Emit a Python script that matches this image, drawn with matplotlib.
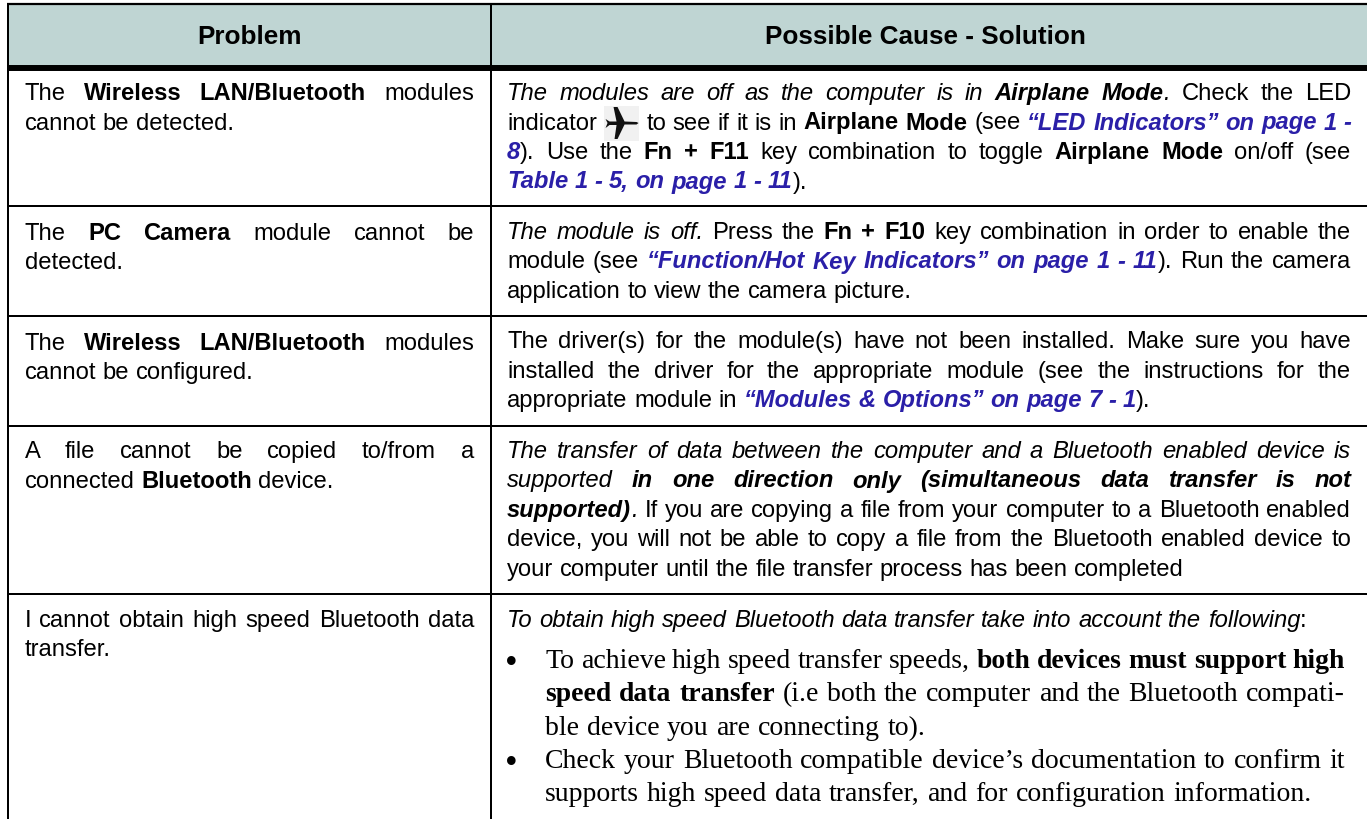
import matplotlib
matplotlib.use('Agg')
import matplotlib.pyplot as plt
from matplotlib.patches import Polygon, Rectangle

plt.rcParams['text.hinting'] = 'no_autohint'

# header + cell text. each line = list of (text, style)
# styles: r plain, b bold, i italic, bi bold italic, l link (blue bold italic)
# times = Times body, tb = Times bold
header_left = 'Problem'
header_right = 'Possible Cause - Solution'

left_cells = [
    [[('The', 'r'), ('Wireless LAN/Bluetooth', 'b'), ('modules', 'r')],
     [('cannot be detected.', 'r')]],
    [[('The', 'r'), ('PC Camera', 'b'), ('module cannot be', 'r')],
     [('detected.', 'r')]],
    [[('The', 'r'), ('Wireless LAN/Bluetooth', 'b'), ('modules', 'r')],
     [('cannot be configured.', 'r')]],
    [[('A file cannot be copied to/from a', 'r')],
     [('connected', 'r'), ('Bluetooth', 'b'), ('device.', 'r')]],
    [[('I cannot obtain high speed Bluetooth data', 'r')],
     [('transfer.', 'r')]],
]

right_cells = [
    [[('The modules are off as the computer is in', 'i'), ('Airplane Mode', 'bi'), ('.', 'i'), ('Check the LED', 'r')],
     [('indicator', 'r'), ('@plane', 'r'), ('to see if it is in', 'r'), ('Airplane Mode', 'b'), ('(see', 'r'),
      ('\u201cLED Indicators\u201d on page 1 -', 'l')],
     [('8', 'l'), (').', 'r'), ('Use the', 'r'), ('Fn + F11', 'b'), ('key combination to toggle', 'r'),
      ('Airplane Mode', 'b'), ('on/off (see', 'r')],
     [('Table 1 - 5, on page 1 - 11', 'l'), (').', 'r')]],
    [[('The module is off.', 'i'), ('Press the', 'r'), ('Fn + F10', 'b'), ('key combination in order to enable the', 'r')],
     [('module (see', 'r'), ('\u201cFunction/Hot Key Indicators\u201d on page 1 - 11', 'l'), (').', 'r'), ('Run the camera', 'r')],
     [('application to view the camera picture.', 'r')]],
    [[('The driver(s) for the module(s) have not been installed. Make sure you have', 'r')],
     [('installed the driver for the appropriate module (see the instructions for the', 'r')],
     [('appropriate module in', 'r'), ('\u201cModules & Options\u201d on page 7 - 1', 'l'), (').', 'r')]],
    [[('The transfer of data between the computer and a Bluetooth enabled device is', 'i')],
     [('supported', 'i'), ('in one direction only (simultaneous data transfer is not', 'bi')],
     [('supported)', 'bi'), ('.', 'i'), ('If you are copying a file from your computer to a Bluetooth enabled', 'r')],
     [('device, you will not be able to copy a file from the Bluetooth enabled device to', 'r')],
     [('your computer until the file transfer process has been completed', 'r')]],
    [[('To obtain high speed Bluetooth data transfer take into account the following', 'i'), (':', 'r')]],
]

bullet_lines = [
    [('To achieve high speed transfer speeds,', 'times'), ('both devices must support high', 'tb')],
    [('speed data transfer', 'tb'), ('(i.e both the computer and the Bluetooth compati-', 'times')],
    [('ble device you are connecting to).', 'times')],
    [('Check your Bluetooth compatible device\u2019s documentation to confirm it', 'times')],
    [('supports high speed data transfer, and for configuration information.', 'times')],
]

# lines that are not stretched to the column width (last line of a paragraph)
left_justified = [[True, False], [True, False], [True, False], [True, False], [True, False]]
right_justified = [[True, True, True, False], [True, True, False], [True, True, False],
                   [True, True, True, True, False], [False]]
bullet_justified = [True, True, False, True, False]
bullet_marks = [True, False, False, True, False]

# no space before these runs
NO_SPACE = ('.', ').', ':')

SANS = 'Liberation Sans'
SERIF = 'Liberation Serif'
BLUE = '#2a1fa8'
STYLES = {
    'r': dict(family=SANS),
    'b': dict(family=SANS, weight='bold'),
    'i': dict(family=SANS, style='italic'),
    'bi': dict(family=SANS, weight='bold', style='italic'),
    'l': dict(family=SANS, weight='bold', style='italic', color=BLUE),
    'times': dict(family=SERIF),
    'tb': dict(family=SERIF, weight='bold'),
}

W, H = 1367, 820
fig = plt.figure(figsize=(W / 100, H / 100), dpi=100)
ax = fig.add_axes([0, 0, 1, 1])
ax.set_xlim(0, W)
ax.set_ylim(H, 0)
ax.axis('off')
renderer = fig.canvas.get_renderer()

PLANE_W = 36


def word_width(word, style, size):
    if word == '@plane':
        return PLANE_W
    t = ax.text(0, 0, word, fontsize=size, **STYLES[style])
    w = t.get_window_extent(renderer).width
    t.remove()
    return w


def draw_plane(x, base):
    # little airplane icon on its pale square
    cy = base - 5.5
    ax.add_patch(Rectangle((x, cy - 17), 35, 35, fc='#f1f1f1', ec='none', zorder=1))
    pts = [(2, -4), (6, -1.5), (13, -1.5), (10, -16), (14, -16), (21, -1.5), (33, -1), (35, 0),
           (33, 1.5), (21, 1.5), (14, 16), (11, 16), (13, 2), (6, 2), (2, 5), (4, 0)]
    ax.add_patch(Polygon([(x + px, cy + py) for px, py in pts], fc='#111111', ec='none', zorder=2))


def draw_line(runs, x0, x1, base, size, justify):
    words = []
    for i, (txt, st) in enumerate(runs):
        glue = txt in NO_SPACE or (i > 0 and runs[i - 1][0] == '8') or i == 0
        for k, w in enumerate(txt.split(' ')):
            words.append((w, st, glue if k == 0 else False))
    widths = [word_width(w, st, size) for w, st, g in words]
    gaps = sum(1 for w, st, g in words[1:] if not g)
    space = word_width('a a', 'r', size) - word_width('aa', 'r', size)
    if justify and gaps:
        space = (x1 - x0 - sum(widths)) / gaps
    x = x0
    for (w, st, g), wd in zip(words, widths):
        if not g and x > x0:
            x += space
        if w == '@plane':
            draw_plane(x, base)
        else:
            ax.text(x, base, w, fontsize=size, va='baseline', ha='left', zorder=3,
                    **{'color': 'black', **STYLES[st]})
        x += wd


# header band and rules, the table runs off the right and bottom of the picture
LEFT, TOP = 8, 5
COL = 491
HEAD = 68.7
rows = [207, 317, 427, 595]
ax.add_patch(Rectangle((LEFT, TOP), W - LEFT, HEAD - TOP, fc='#bfd5d3', ec='none', zorder=0))
ax.hlines(TOP, LEFT - 1, W, color='black', lw=1.6, zorder=4)
ax.hlines(HEAD, LEFT - 1, W, color='black', lw=4.3, zorder=4)
ax.hlines(rows, LEFT, W, color='black', lw=1.44, zorder=4)
ax.vlines([LEFT, COL], TOP, H, color='black', lw=1.44, zorder=4)

ax.text(249.5, 44, header_left, ha='center', va='baseline', fontsize=18.8, family=SANS, weight='bold')
ax.text(925, 44, header_right, ha='center', va='baseline', fontsize=18.8, family=SANS, weight='bold')

# body text
SIZE = 17.1
left_base = [[100.5, 130], [240, 269.5], [350, 379.5], [458.5, 488], [627, 656]]
right_base = [[100, 129.5, 159, 188.5], [239, 268.5, 298], [348.5, 378, 407.5],
              [458, 487.5, 517, 546.5, 576], [627]]
for cell, bases, just in zip(left_cells, left_base, left_justified):
    for line, b, j in zip(cell, bases, just):
        draw_line(line, 24.5, 474, b, SIZE, j)
for cell, bases, just in zip(right_cells, right_base, right_justified):
    for line, b, j in zip(cell, bases, just):
        draw_line(line, 507, 1351, b, SIZE, j)

bullet_base = [668, 701.5, 735, 768, 801.5]
for line, b, j, mark in zip(bullet_lines, bullet_base, bullet_justified, bullet_marks):
    if mark:
        ax.text(505, b + 4, '\u2022', fontsize=26, family=SERIF, va='baseline', ha='left')
    draw_line(line, 545, 1345, b, 20, j)

fig.savefig('out.png', dpi=100)
